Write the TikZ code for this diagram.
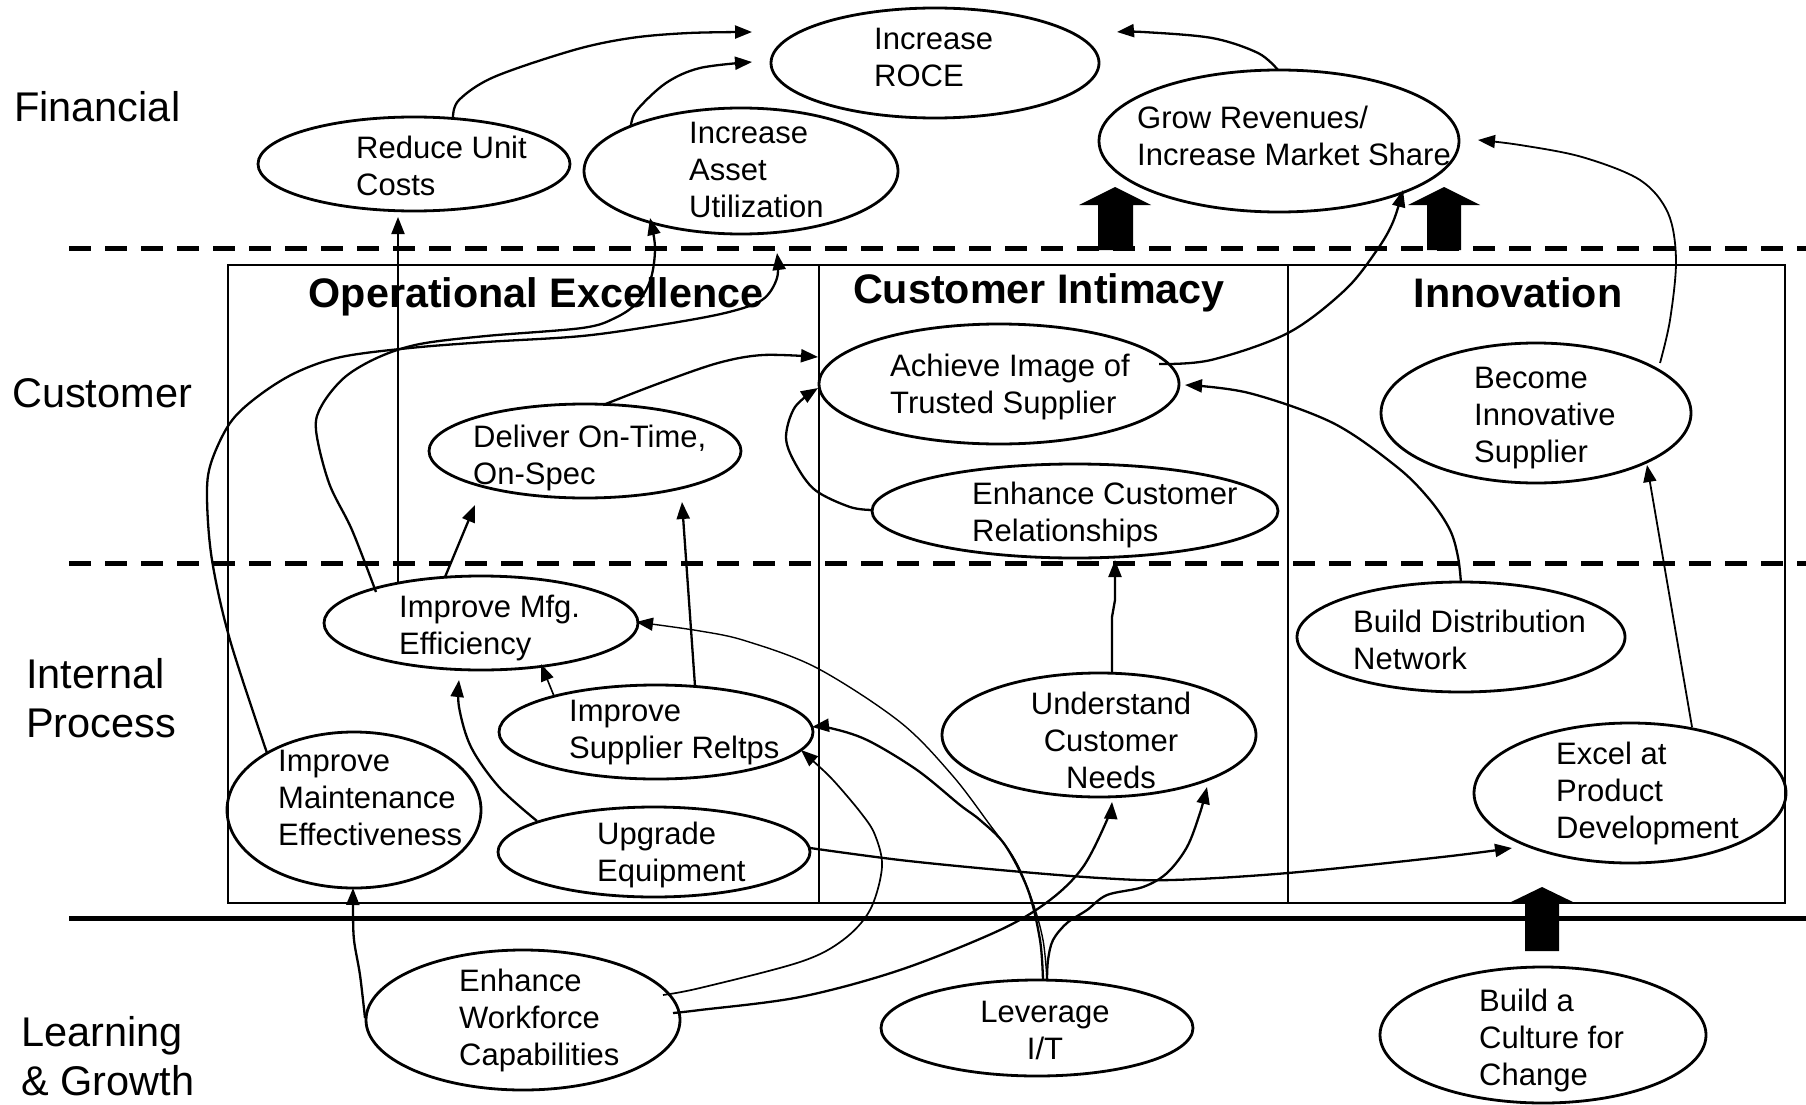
\documentclass[tikz,border=0pt]{standalone}
\usepackage{fontspec}
\setmainfont{Liberation Sans}
\usetikzlibrary{shapes.geometric,arrows.meta,calc}
\tikzset{
  ell/.style={ellipse, draw, line width=2.8pt, inner sep=0pt},
  txt/.style={inner sep=0pt, align=left, anchor=west, font=\fontsize{31}{37}\selectfont},
  ctxt/.style={inner sep=0pt, align=center, anchor=center, font=\fontsize{31}{37}\selectfont},
  rowlab/.style={inner sep=0pt, anchor=base west, font=\fontsize{41.5}{49}\selectfont},
  hdr/.style={inner sep=0pt, anchor=base, font=\bfseries\fontsize{41.3}{48}\selectfont},
  tip/.style={-{Triangle[length=17pt,width=13pt]}},
  conn/.style={tip, line width=2.3pt, line join=round},
  thinconn/.style={tip, line width=1.4pt, line join=round},
  dashline/.style={line width=5pt, dash pattern=on 22pt off 14pt},
  sm/.style={smooth, tension=0.55},
}
\begin{document}
\begin{tikzpicture}[x=1pt,y=-1pt]
\useasboundingbox (0,0) rectangle (1806,1105);
\fill[white] (0,0) rectangle (1806,1105);

% ---- frame, separators ----
\draw[dashline] (69,248) -- (1806,248);
\draw[dashline] (69,563) -- (1806,563);
\draw[line width=5pt] (69,918) -- (1806,918);
\draw[line width=2.4pt] (228,265) rectangle (1785,903);
\draw[line width=2.4pt] (819,265) -- (819,903);
\draw[line width=2.4pt] (1288,265) -- (1288,903);

% ---- row labels ----
\node[rowlab] (lfin) at (14,122) {Financial};
\node[rowlab] (lcus) at (12,407) {Customer};
\node[rowlab] (lint) at (26,688) {Internal};
\node[rowlab] (lpro) at (26,737) {Process};
\node[rowlab] (llea) at (21,1046) {Learning};
\node[rowlab] (lgro) at (21,1095) {\& Growth};

% ---- column headers ----
\node[hdr] (hop) at (536,307) {Operational Excellence};
\node[hdr] (hci) at (1039,303) {Customer Intimacy};
\node[hdr] (hin) at (1518,307) {Innovation};

% ---- block arrows ----
\fill (1098,250) -- (1098,205) -- (1079,205) -- (1115,187) -- (1151,205) -- (1133,205) -- (1133,250) -- cycle;
\fill (1427,250) -- (1427,205) -- (1408,205) -- (1444,187) -- (1480,205) -- (1461,205) -- (1461,250) -- cycle;
\fill (1525,951) -- (1525,903) -- (1509,903) -- (1542,887) -- (1575,903) -- (1559,903) -- (1559,951) -- cycle;

% ---- ellipses ----
\node[ell, minimum width=328pt, minimum height=110pt] (roce) at (935,63) {};
\node[ell, minimum width=312pt, minimum height=94pt] (reduce) at (414,164) {};
\node[ell, minimum width=314pt, minimum height=126pt] (asset) at (741,171) {};
\node[ell, minimum width=360pt, minimum height=142pt] (grow) at (1279,141) {};
\node[ell, minimum width=360pt, minimum height=120pt] (achieve) at (999,384) {};
\node[ell, minimum width=406pt, minimum height=94pt] (enhcr) at (1075,511) {};
\node[ell, minimum width=310pt, minimum height=140pt] (become) at (1536,413) {};
\node[ell, minimum width=312pt, minimum height=94pt] (deliver) at (585,451) {};
\node[ell, minimum width=314pt, minimum height=94pt] (mfg) at (481,623) {};
\node[ell, minimum width=314pt, minimum height=94pt] (supplier) at (656,732) {};
\node[ell, minimum width=254pt, minimum height=156pt] (maint) at (354,810) {};
\node[ell, minimum width=312pt, minimum height=90pt] (upgrade) at (654,852) {};
\node[ell, minimum width=314pt, minimum height=124pt] (underst) at (1099,735) {};
\node[ell, minimum width=328pt, minimum height=110pt] (builddist) at (1461,637) {};
\node[ell, minimum width=312pt, minimum height=140pt] (excel) at (1630,793) {};
\node[ell, minimum width=314pt, minimum height=140pt] (enhwf) at (523,1020) {};
\node[ell, minimum width=312pt, minimum height=96pt] (leverage) at (1037,1028) {};
\node[ell, minimum width=326pt, minimum height=136pt] (culture) at (1543,1035) {};

% ---- texts ----
\node[txt] (troce) at (874,57) {Increase\\ROCE};
\node[txt] (treduce) at (356,166) {Reduce Unit\\Costs};
\node[txt] (tasset) at (689,170) {Increase\\Asset\\Utilization};
\node[txt] (tgrow) at (1137,136) {Grow Revenues/\\Increase Market Share};
\node[txt] (tachieve) at (890,387) {Achieve Image of\\Trusted Supplier};
\node[txt] (tenhcr) at (972,515) {Enhance Customer\\Relationships};
\node[txt] (tbecome) at (1474,418) {Become\\Innovative\\Supplier};
\node[txt] (tdeliver) at (473,458) {Deliver On-Time,\\On-Spec};
\node[txt] (tmfg) at (399,628) {Improve Mfg.\\Efficiency};
\node[txt] (tsupplier) at (569,733) {Improve\\Supplier Reltps};
\node[txt] (tmaint) at (278,798) {Improve\\Maintenance\\Effectiveness};
\node[txt] (tupgrade) at (597,855) {Upgrade\\Equipment};
\node[ctxt] (tunderst) at (1111,740) {Understand\\Customer\\Needs};
\node[txt] (tbuilddist) at (1353,640) {Build Distribution\\Network};
\node[txt] (texcel) at (1556,793) {Excel at\\Product\\Development};
\node[txt] (tenhwf) at (459,1020) {Enhance\\Workforce\\Capabilities};
\node[ctxt] (tleverage) at (1045,1030) {Leverage\\I/T};
\node[txt] (tculture) at (1479,1040) {Build a\\Culture for\\Change};

% ---- connectors ----
% Reduce Unit Costs -> ROCE
\draw[conn] plot[sm] coordinates {($(reduce)+(39,-47)$) (459,100) (494,77) (574,50) (631,38) (689,33) ($(roce)+(-183,-31)$)};
% Asset -> ROCE
\draw[conn] plot[sm] coordinates {($(asset)+(-110,-46)$) (637,110) (666,83) (700,68) ($(roce)+(-183,-1)$)};
% Grow -> ROCE
\draw[conn] plot[sm] coordinates {($(grow)+(-1,-71)$) (1258,53) (1212,38) (1143,32) ($(roce)+(182,-31)$)};
% Achieve -> Grow
\draw[conn] plot[sm] coordinates {($(achieve)+(160,-20)$) (1211,360) (1288,333) (1345,290) (1377,250) (1393,222) ($(grow)+(124,49)$)};
% Become -> Grow
\draw[thinconn, line width=1.8pt] plot[sm] coordinates {($(become)+(124,-50)$) (1670,320) (1676,260) (1668,213) (1640,180) (1582,157) (1520,145) ($(grow)+(199,-1)$)};
% Build Distribution -> Achieve
\draw[conn] plot[sm] coordinates {($(builddist)+(0,-54)$) (1458,557) (1450,530) (1430,500) (1397,467) (1333,423) (1249,393) ($(achieve)+(186,1)$)};
% Enhance Cust Rel -> Achieve
\draw[conn] plot[sm] coordinates {($(enhcr)+(-202,-1)$) (850,507) (815,490) (795,463) (786,437) (795,407) ($(achieve)+(-181,4)$)};
% Deliver -> Achieve
\draw[conn] plot[sm] coordinates {($(deliver)+(18,-46)$) (660,383) (718,363) (763,355) ($(achieve)+(-181,-27)$)};
% Mfg -> Reduce
\draw[conn, line width=2pt] ($(mfg)+(-83,-40)$) -- ($(reduce)+(-16,53)$);
% Mfg -> Asset
\draw[conn] plot[sm] coordinates {($(mfg)+(-105,-31)$) (352,530) (329,483) (316,430) (322,405) (345,377) (379,357) (420,344) (486,336) (582,328) (615,318) (638,302) (651,278) (655,247) ($(asset)+(-91,47)$)};
% Maintenance -> Asset
\draw[conn] plot[sm] coordinates {($(maint)+(-87,-57)$) (230,640) (212,560) (207,497) (211,463) (230,423) (257,397) (295,373) (341,357) (410,348) (486,342) (582,336) (660,325) (725,313) (762,300) (777,278) ($(asset)+(36,82)$)};
% Mfg -> Deliver
\draw[conn] ($(mfg)+(-36,-46)$) -- ($(deliver)+(-110,54)$);
% Supplier -> Deliver
\draw[conn] ($(supplier)+(39,-46)$) -- ($(deliver)+(97,51)$);
% Supplier -> Mfg
\draw[conn, line width=1.6pt] ($(supplier)+(-102,-36)$) -- ($(mfg)+(60,41)$);
% Upgrade -> Mfg
\draw[conn] plot[sm] coordinates {($(upgrade)+(-117,-31)$) (499,787) (471,747) (459,707) ($(mfg)+(-22,57)$)};
% Understand -> Enhance Cust Rel
\draw[conn] ($(underst)+(13,-62)$) -- (1112,617) -- (1115,600) -- ($(enhcr)+(40,49)$);
% Excel -> Become
\draw[conn, line width=1.8pt] ($(excel)+(62,-66)$) -- ($(become)+(111,52)$);
% Workforce -> Maintenance
\draw[conn] plot[sm] coordinates {($(enhwf)+(-158,-2)$) (360,975) (354,940) (353,910) ($(maint)+(-1,78)$)};
% Workforce -> Supplier
\draw[thinconn, line width=1.7pt] plot[sm] coordinates {($(enhwf)+(140,-25)$) (700,988) (800,962) (843,940) (870,910) (882,867) (875,835) (861,813) (833,780) (812,760) ($(supplier)+(145,18)$)};
% Workforce -> Understand
\draw[conn] plot[sm] coordinates {($(enhwf)+(150,-7)$) (700,1010) (800,997) (900,970) (1000,930) (1050,900) (1083,867) (1107,820) ($(underst)+(13,67)$)};
% Leverage -> Understand
\draw[conn] plot[sm] coordinates {($(leverage)+(10,-48)$) (1048,960) (1053,940) (1067,923) (1087,910) (1107,895) (1143,887) (1167,873) (1187,847) (1200,813) ($(underst)+(108,52)$)};
% Leverage -> Mfg
\draw[thinconn] plot[sm] coordinates {($(leverage)+(10,-48)$) (1043,940) (1032,900) (1015,860) (990,825) (952,775) (900,722) (817,668) (746,641) (700,631) ($(mfg)+(155,-1)$)};
% Leverage -> Supplier
\draw[conn] plot[sm] coordinates {($(leverage)+(6,-48)$) (1040,940) (1028,890) (1005,845) (980,820) (960,805) (917,770) (867,740) (830,728) ($(supplier)+(156,-5)$)};
% Upgrade -> Excel
\draw[conn] plot[sm] coordinates {($(upgrade)+(156,-4)$) (900,860) (1000,870) (1100,878) (1172,880) (1288,873) (1442,857) ($(excel)+(-118,55)$)};
\end{tikzpicture}
\end{document}
